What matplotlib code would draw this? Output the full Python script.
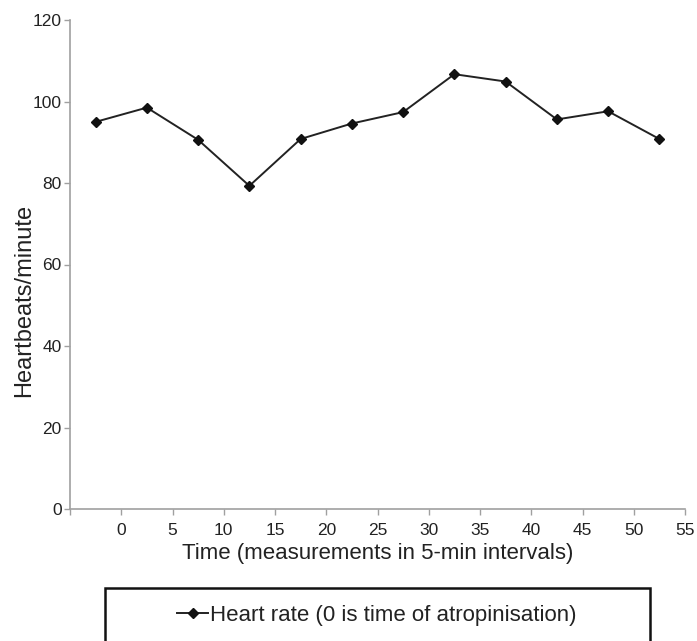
import matplotlib
matplotlib.use("Agg")
import matplotlib.pyplot as plt
from matplotlib.patches import Rectangle

plt.rcParams["font.family"] = ["Liberation Sans", "DejaVu Sans"]

# Heart rate readings, taken mid-way through each 5-min interval
times = [-2.5, 2.5, 7.5, 12.5, 17.5, 22.5, 27.5, 32.5, 37.5, 42.5, 47.5, 52.5]
heart_rate = [95, 98.5, 90.6, 79.3, 90.8, 94.6, 97.4, 106.7, 104.9, 95.6, 97.6, 90.8]
x_ticks = list(range(-5, 60, 5))
x_tick_labels = [""] + [str(t) for t in range(0, 60, 5)]
y_ticks = [0, 20, 40, 60, 80, 100, 120]

fig = plt.figure(figsize=(6.97, 6.41), dpi=100)
ax = fig.add_axes([70 / 697, 1 - 509 / 641, 615 / 697, 489 / 641])

line, = ax.plot(times, heart_rate, color="#222222", linewidth=1.4,
                marker="D", markersize=5.5, markerfacecolor="#111111",
                markeredgecolor="#111111", clip_on=False,
                label="Heart rate (0 is time of atropinisation)")

ax.set_xlim(-5, 55)
ax.set_ylim(0, 120)
ax.set_xticks(x_ticks)
ax.set_xticklabels(x_tick_labels)
ax.set_yticks(y_ticks)

for side in ["top", "right"]:
    ax.spines[side].set_visible(False)
for side in ["left", "bottom"]:
    ax.spines[side].set_color("#a0a0a0")
    ax.spines[side].set_linewidth(1.2)

ax.tick_params(axis="both", direction="out", length=4, width=1,
               color="#a0a0a0", labelsize=12.5, labelcolor="#222222")
ax.tick_params(axis="x", pad=6)
ax.tick_params(axis="y", pad=2)

ax.set_xlabel("Time (measurements in 5-min intervals)", fontsize=16,
              color="#222222", labelpad=4)
ax.set_ylabel("Heartbeats/minute", fontsize=17, color="#222222")
# the label sits a little below the middle of the axis
ax.yaxis.set_label_coords(-0.056, 0.427)

# legend box, running off the bottom edge like in the original
box = Rectangle((105 / 697, 1 - 650 / 641), 545 / 697, 62 / 641,
                transform=fig.transFigure, fill=False, edgecolor="#111111",
                linewidth=1.8, clip_on=False)
fig.patches.append(box)
fig.legend(handles=[line], loc="center", bbox_to_anchor=(377 / 697, 1 - 615 / 641),
           frameon=False, fontsize=16, handlelength=1.4, handletextpad=0.1,
           labelcolor="#222222")

fig.savefig("out.png", dpi=100)
